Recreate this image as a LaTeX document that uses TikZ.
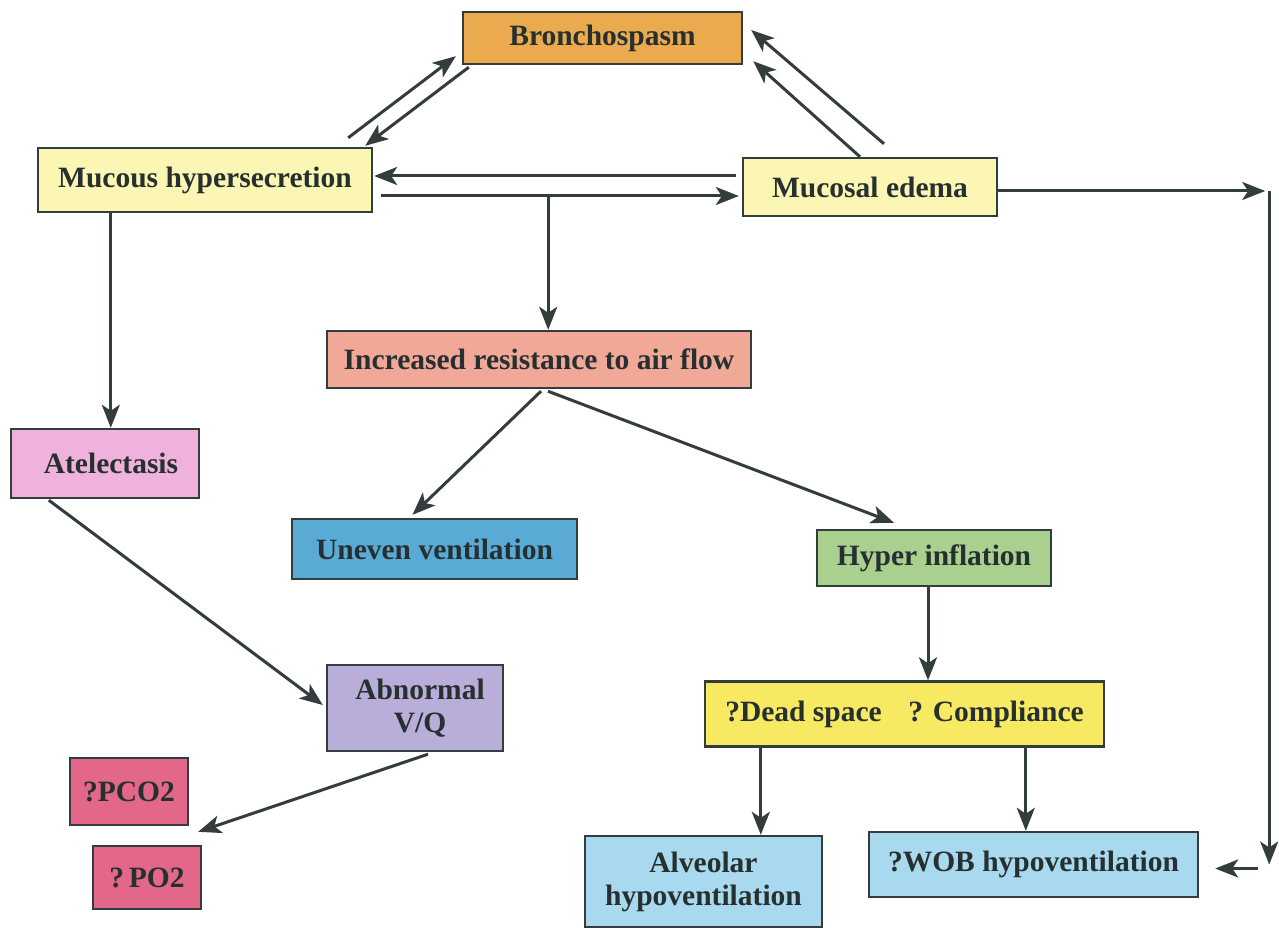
\documentclass[tikz,border=0pt]{standalone}
\usepackage{fontspec}
\setmainfont{Liberation Serif}
\usetikzlibrary{arrows.meta,calc}

\definecolor{ink}{HTML}{263030}
\definecolor{linec}{HTML}{343D3D}
\definecolor{cOrange}{HTML}{EBAA4E}
\definecolor{cCream}{HTML}{FBF6B4}
\definecolor{cSalmon}{HTML}{F1A896}
\definecolor{cPink}{HTML}{EFB2DC}
\definecolor{cBlue}{HTML}{5AAAD6}
\definecolor{cGreen}{HTML}{A9D08E}
\definecolor{cLilac}{HTML}{B9ADD9}
\definecolor{cRose}{HTML}{E26788}
\definecolor{cYellow}{HTML}{F7EA62}
\definecolor{cSky}{HTML}{A9D9EE}

\tikzset{
  box/.style={draw=linec, line width=2.4pt, text=ink, inner sep=0pt, align=center,
    font=\bfseries\fontsize{29.5}{33}\selectfont, rectangle},
  arr/.style={draw=linec, line width=3pt, -{Stealth[length=23pt,width=18pt,inset=6pt]}}
}

\begin{document}
\begin{tikzpicture}[x=1pt,y=-1pt]
\useasboundingbox[fill=white] (0,0) rectangle (1279,928);

% boxes (centre, width, height in pixel units)
\node[box, fill=cOrange, minimum width=279, minimum height=52] (bron) at (602.5,38) {Bronchospasm};
\node[box, fill=cCream, minimum width=334, minimum height=64] (mucous) at (205,180) {Mucous hypersecretion};
\node[box, fill=cCream, minimum width=254, minimum height=58] (edema) at (870,187) {Mucosal edema};
\node[box, fill=cSalmon, minimum width=424, minimum height=57] (resist) at (539,359.5) {Increased resistance to air flow};
\node[box, fill=cPink, minimum width=188, minimum height=69] (atel) at (105,463.5) {\hspace{12pt}Atelectasis\raisebox{8pt}{}};
\node[box, fill=cBlue, minimum width=285, minimum height=60] (uneven) at (434.5,549) {Uneven ventilation};
\node[box, fill=cGreen, minimum width=234, minimum height=56] (hyper) at (934,558) {Hyper inflation};
\node[box, fill=cLilac, minimum width=176, minimum height=86] (abn) at (415,708) {\hspace{10pt}Abnormal\\\hspace{10pt}V/Q};
\node[box, fill=cRose, minimum width=118, minimum height=67] (pco) at (129,791.5) {?PCO2};
\node[box, fill=cRose, minimum width=108, minimum height=63] (po) at (147,877.5) {?\,PO2};
\node[box, fill=cYellow, minimum width=399, minimum height=65] (dead) at (904.5,714) {?Dead space\hspace{0.9em}? Compliance};
\node[box, fill=cSky, minimum width=237, minimum height=91] (alv) at (703.5,881.5) {Alveolar\\hypoventilation};
\node[box, fill=cSky, minimum width=329, minimum height=65] (wob) at (1033.5,864.5) {?WOB hypoventilation};

% bronchospasm loop
\draw[arr] ($(mucous.north east)+(-25,-9)$) -- ($(bron.south west)+(-6,-9)$);
\draw[arr] ($(bron.south west)+(7,2)$) -- ($(mucous.north east)+(-8,-1)$);
\draw[arr] ($(edema.north)+(14,-13)$) -- ($(bron.east)+(8,-8)$);
\draw[arr] ($(edema.north)+(-10,0)$) -- ($(bron.south east)+(10,-4)$);

% mucous <-> edema
\draw[arr] ($(edema.west)+(-6,-11)$) -- ($(mucous.east)+(1,-4)$);
\draw[arr] ($(mucous.east)+(8,16)$) -- ($(edema.west)+(-3,9)$);
\coordinate (junc) at ($(mucous.east)+(175,16)$);
\draw[arr] (junc) -- (junc |- resist.north);

% mucous -> atelectasis
\coordinate (mdown) at ($(mucous.south west)+(74,0)$);
\draw[arr] (mdown) -- (mdown |- atel.north);

% edema -> right margin -> WOB
\coordinate (rc) at ($(edema.east)+(271,4)$);
\draw[arr] (edema.east |- rc) -- ($(rc)+(-4,0)$);
\coordinate (rb) at ($(wob.east)+(70,0)$);
\draw[arr] (rc) -- (rc |- rb);
\coordinate (rl) at ($(wob.east)+(59,4)$);
\draw[arr] (rl) -- ($(wob.east)+(16,4)$);

% resistance branches
\draw[arr] ($(resist.south)+(2,2)$) -- ($(uneven.north)+(-22,-3)$);
\draw[arr] ($(resist.south)+(9,2)$) -- ($(hyper.north)+(-40,-6)$);
\draw[arr] ($(hyper.south)+(-6,0)$) -- ($(dead.north)+(23.5,0)$);

% left chain
\draw[arr] ($(atel.south west)+(39,1)$) -- ($(abn.west)+(-3,-3)$);
\draw[arr] ($(abn.south)+(13,2)$) -- ($(po.north east)+(-4,-13)$);

% dead space branches
\coordinate (dl) at ($(dead.south west)+(57,0)$);
\draw[arr] (dl) -- (dl |- alv.north);
\coordinate (dr) at ($(dead.south west)+(322,0)$);
\draw[arr] (dr) -- (dr |- wob.north);
\end{tikzpicture}
\end{document}
